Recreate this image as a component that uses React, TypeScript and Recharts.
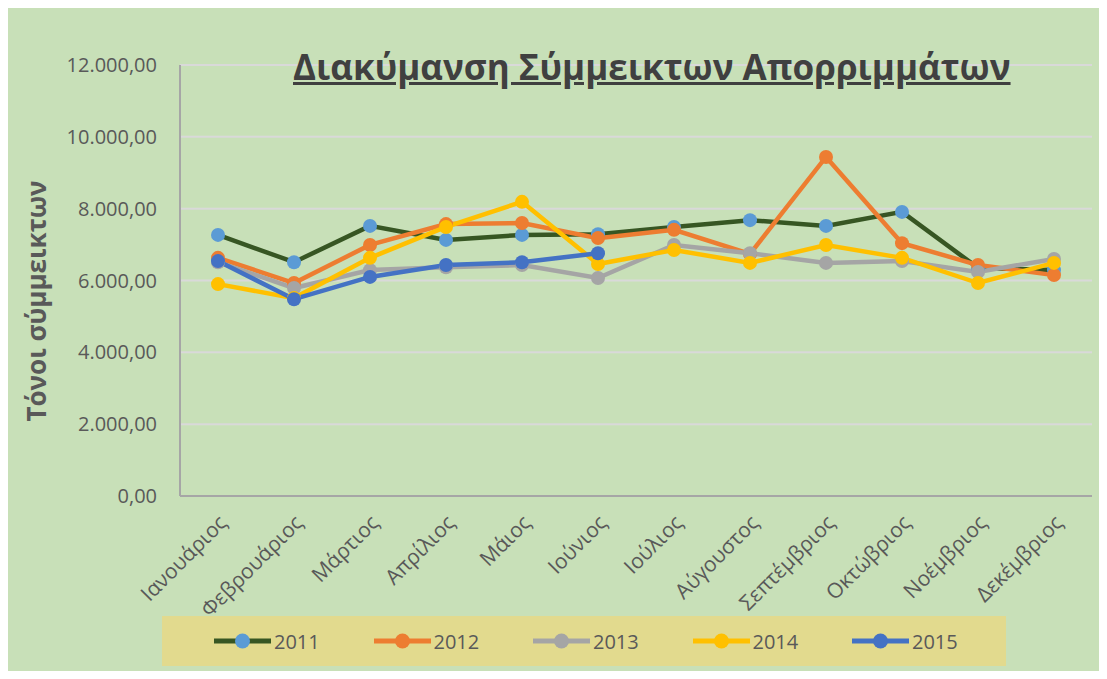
import React from 'react';
import { LineChart, Line, XAxis, YAxis, CartesianGrid } from 'recharts';

const months = [
  'Ιανουάριος', 'Φεβρουάριος', 'Μάρτιος', 'Απρίλιος', 'Μάιος', 'Ιούνιος',
  'Ιούλιος', 'Αύγουστος', 'Σεπτέμβριος', 'Οκτώβριος', 'Νοέμβριος', 'Δεκέμβριος',
];

const y2011 = [7270, 6510, 7520, 7130, 7270, 7290, 7490, 7680, 7520, 7910, 6350, 6290];
const y2012 = [6630, 5930, 6990, 7570, 7600, 7180, 7410, 6740, 9440, 7040, 6430, 6150];
const y2013 = [6510, 5790, 6290, 6370, 6430, 6070, 6990, 6760, 6490, 6540, 6240, 6600];
const y2014 = [5900, 5510, 6630, 7490, 8190, 6460, 6850, 6490, 6990, 6630, 5930, 6490];
const y2015 = [6540, 5480, 6100, 6430, 6510, 6760, null, null, null, null, null, null];

const yTicks = [0, 2000, 4000, 6000, 8000, 10000, 12000];

const series = [
  { key: '2011', line: '#375623', dot: '#5B9BD5' },
  { key: '2012', line: '#ED7D31', dot: '#ED7D31' },
  { key: '2013', line: '#A5A5A5', dot: '#A5A5A5' },
  { key: '2014', line: '#FFC000', dot: '#FFC000' },
  { key: '2015', line: '#4472C4', dot: '#4472C4' },
];

const data = months.map((m, i) => ({
  month: m,
  '2011': y2011[i],
  '2012': y2012[i],
  '2013': y2013[i],
  '2014': y2014[i],
  '2015': y2015[i],
}));

const font = '"Open Sans", sans-serif';

// 12000 -> "12.000,00"
const fmt = (v: number) =>
  v.toLocaleString('de-DE', { minimumFractionDigits: 2, maximumFractionDigits: 2 });

const MonthTick = (props: any) => {
  const { x, y, payload } = props;
  const tx = x + 10;
  const ty = y + 20;
  return (
    <text
      x={tx}
      y={ty}
      transform={`rotate(-45, ${tx}, ${ty})`}
      textAnchor="end"
      fontSize={21}
      fontFamily={font}
      fill="#595959"
    >
      {payload.value}
    </text>
  );
};

const App = () => {
  return (
    <div style={{ position: 'relative', width: 1091, height: 663, background: '#C8E0B8', fontFamily: font }}>
      <LineChart
        width={1091}
        height={663}
        data={data}
        margin={{ top: 57, right: 7, left: 0, bottom: 65 }}
      >
        <CartesianGrid vertical={false} stroke="#D9D9D9" strokeWidth={2} />
        <XAxis
          dataKey="month"
          height={110}
          padding={{ left: 38, right: 38 }}
          tickLine={false}
          axisLine={{ stroke: '#A6A6A6', strokeWidth: 2 }}
          tick={<MonthTick />}
          interval={0}
        />
        <YAxis
          width={172}
          domain={[0, 12000]}
          ticks={yTicks}
          tickFormatter={fmt}
          tickLine={false}
          tickSize={0}
          tickMargin={23}
          axisLine={{ stroke: '#A6A6A6', strokeWidth: 2 }}
          tick={{ fontSize: 20, fill: '#595959', fontFamily: font }}
        />
        {series.map((s) => (
          <Line
            key={s.key}
            dataKey={s.key}
            stroke={s.line}
            strokeWidth={4.5}
            dot={{ r: 7, fill: s.dot, stroke: 'none' }}
            activeDot={false}
            isAnimationActive={false}
          />
        ))}
      </LineChart>

      <div
        style={{
          position: 'absolute', left: 285, top: 38, fontSize: 35, fontWeight: 700,
          color: '#404040', textDecoration: 'underline', whiteSpace: 'nowrap', lineHeight: '42px',
        }}
      >
        Διακύμανση Σύμμεικτων Απορριμμάτων
      </div>

      <div
        style={{
          position: 'absolute', left: 28, top: 293, width: 0, height: 0,
        }}
      >
        <div
          style={{
            position: 'absolute', transform: 'translate(-50%, -50%) rotate(-90deg)',
            fontSize: 26, fontWeight: 700, color: '#595959', whiteSpace: 'nowrap',
          }}
        >
          Τόνοι σύμμεικτων
        </div>
      </div>

      <div
        style={{
          position: 'absolute', left: 154, top: 608, width: 844, height: 50, background: '#E2DA8E',
        }}
      >
        {series.map((s, i) => (
          <div
            key={s.key}
            style={{ position: 'absolute', left: 52 + 159.5 * i, top: 12, height: 26, display: 'flex', alignItems: 'center' }}
          >
            <svg width={57} height={20}>
              <line x1={0} y1={10} x2={57} y2={10} stroke={s.line} strokeWidth={5} />
              <circle cx={28.5} cy={10} r={7.5} fill={s.dot} />
            </svg>
            <span style={{ marginLeft: 3, fontSize: 20, color: '#595959' }}>
              {s.key}
            </span>
          </div>
        ))}
      </div>
    </div>
  );
};

export default App;
